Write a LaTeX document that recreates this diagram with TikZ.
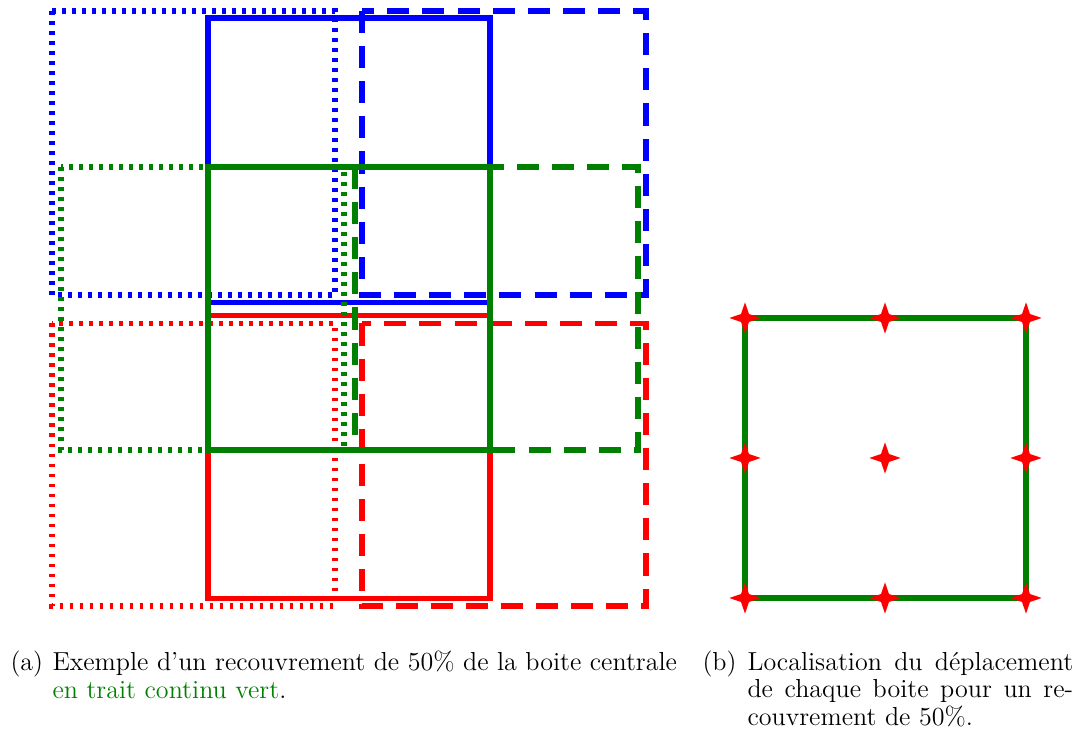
\documentclass[tikz,border=0pt]{standalone}
\usepackage{tikz}
\usetikzlibrary{shapes.geometric}
\definecolor{vert}{rgb}{0,0.5,0}

\begin{document}
\begin{tikzpicture}
  [x=0.43pt, y=-0.43pt, line width=2.2pt,
   pointille/.style={dash pattern=on 1.7pt off 2.6pt},
   tirete/.style={dash pattern=on 9.5pt off 5.6pt},
   croix/.style={star, star points=4, star point ratio=2.8, fill=red,
                 inner sep=0pt, minimum size=13.5pt},
   legende/.style={inner sep=0pt, font=\fontsize{11.2}{12}\selectfont}]
  \useasboundingbox (0,0) rectangle (1080,736);

  % boites decalees (a)
  \draw [blue, pointille] (52,11) rectangle (335,295);
  \draw [blue] (208,18) rectangle (490,302.5);
  \draw [blue, tirete] (362,11) rectangle (646,295);
  \draw [red, pointille] (52,323.5) rectangle (335,606);
  \draw [red] (208,315.5) rectangle (490,598.5);
  \draw [red, tirete] (362,323.5) rectangle (646,606);
  \draw [vert, pointille] (61,167) rectangle (344,450);
  \draw [vert, tirete] (355,167) rectangle (638,450);
  \draw [vert] (208,167) rectangle (490,450);

  % boite centrale et deplacements (b)
  \draw [vert] (745,318) rectangle (1026,598);
  \foreach \i/\x in {g/745, m/885, d/1026}
    \foreach \j/\y in {h/318, c/458, b/598}
      \node [croix] (p\i\j) at (\x,\y) {};

  % legendes
  \node [legende, anchor=north west] (labela) at (8,648) {\strut(a)};
  \node [legende, anchor=north west, align=left] (capta) at (50,648)
    {\strut Exemple d'un recouvrement de 50\% de la boite centrale\\
     \textcolor{vert}{en trait continu vert}.};
  \node [legende, anchor=north west] (labelb) at (700,648) {\strut(b)};
  \node [legende, anchor=north west, text width=140pt, align=justify] (captb) at (745,648)
    {\strut Localisation du déplacement\linebreak de chaque boite pour un
     re-\linebreak couvrement de 50\%.};
\end{tikzpicture}
\end{document}
